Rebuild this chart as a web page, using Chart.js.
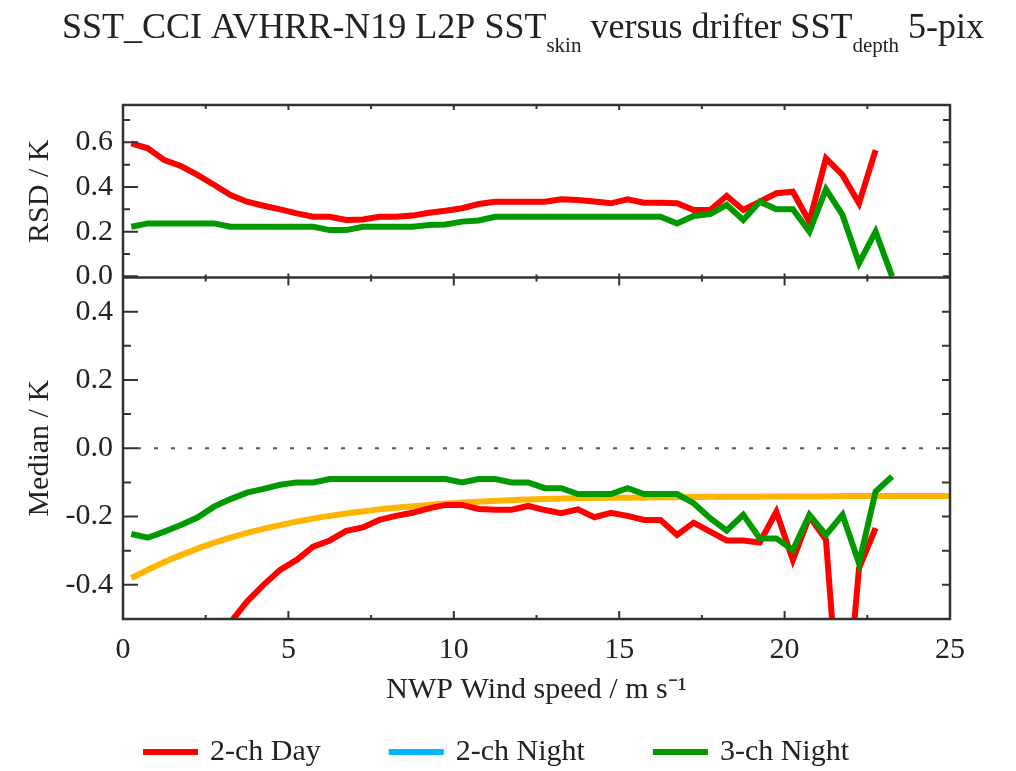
<!DOCTYPE html>
<html>
<head>
<meta charset="utf-8">
<script src="https://cdn.jsdelivr.net/npm/chart.js@4.4.0/dist/chart.umd.min.js"></script>
<style>
html, body { margin: 0; padding: 0; background: #fff; }
</style>
</head>
<body>
<canvas id="sstChart" width="1016" height="771"></canvas>
<script>
// wind speed bin centres (m/s)
const windBins = [0.25, 0.75, 1.25, 1.75, 2.25, 2.75, 3.25, 3.75, 4.25, 4.75,
  5.25, 5.75, 6.25, 6.75, 7.25, 7.75, 8.25, 8.75, 9.25, 9.75,
  10.25, 10.75, 11.25, 11.75, 12.25, 12.75, 13.25, 13.75, 14.25, 14.75,
  15.25, 15.75, 16.25, 16.75, 17.25, 17.75, 18.25, 18.75, 19.25, 19.75,
  20.25, 20.75, 21.25, 21.75, 22.25, 22.75, 23.25];

// RSD / K
const rsdDay2ch = [0.595, 0.573, 0.52, 0.494, 0.454, 0.41, 0.364, 0.334, 0.316, 0.30,
  0.282, 0.267, 0.267, 0.252, 0.255, 0.267, 0.267, 0.272, 0.285, 0.294,
  0.305, 0.324, 0.334, 0.334, 0.334, 0.334, 0.345, 0.342, 0.335, 0.327,
  0.345, 0.33, 0.33, 0.327, 0.297, 0.297, 0.36, 0.297, 0.334, 0.372,
  0.379, 0.245, 0.528, 0.454, 0.327, 0.565];
const rsdNight3ch = [0.222, 0.237, 0.237, 0.237, 0.237, 0.237, 0.222, 0.222, 0.222, 0.222,
  0.222, 0.222, 0.207, 0.207, 0.222, 0.222, 0.222, 0.222, 0.23, 0.232,
  0.245, 0.25, 0.267, 0.267, 0.267, 0.267, 0.267, 0.267, 0.267, 0.267,
  0.267, 0.267, 0.267, 0.237, 0.27, 0.279, 0.32, 0.252, 0.334, 0.30,
  0.30, 0.20, 0.39, 0.275, 0.059, 0.20, 0.0];

// Median / K  (first bins of the 2-ch day curve lie below the plotted range)
const medDay2ch = [null, null, null, null, null, null, -0.51, -0.449, -0.40, -0.356,
  -0.327, -0.288, -0.27, -0.242, -0.232, -0.21, -0.198, -0.189, -0.176, -0.166,
  -0.166, -0.178, -0.18, -0.18, -0.169, -0.181, -0.19, -0.179, -0.202, -0.189,
  -0.198, -0.21, -0.21, -0.254, -0.218, -0.244, -0.27, -0.27, -0.276, -0.186,
  -0.327, -0.20, -0.268, -0.9, -0.351, -0.234];
const medNight3ch = [-0.251, -0.262, -0.244, -0.225, -0.203, -0.171, -0.149, -0.13, -0.119, -0.107,
  -0.10, -0.10, -0.09, -0.09, -0.09, -0.09, -0.09, -0.09, -0.09, -0.09,
  -0.10, -0.09, -0.09, -0.10, -0.10, -0.117, -0.117, -0.134, -0.134, -0.134,
  -0.117, -0.134, -0.134, -0.134, -0.161, -0.205, -0.241, -0.195, -0.264, -0.264,
  -0.298, -0.195, -0.254, -0.195, -0.337, -0.127, -0.083];

// smooth fitted curve (orange)
const fitWind = [0.25, 0.75, 1.25, 1.75, 2.25, 2.75, 3.25, 3.75, 4.25, 4.75, 5.25, 5.75,
  6.25, 6.75, 7.25, 7.75, 8.25, 8.75, 9.25, 9.75, 10.25, 11, 12, 13, 14, 15, 16, 17,
  18, 19, 20, 21, 22, 23, 24, 25];
const fitMedian = [-0.38, -0.356, -0.333, -0.313, -0.294, -0.277, -0.262, -0.248, -0.236, -0.225, -0.215, -0.206,
  -0.198, -0.191, -0.185, -0.179, -0.174, -0.17, -0.166, -0.162, -0.159, -0.155, -0.151, -0.148, -0.146, -0.145, -0.144, -0.143,
  -0.142, -0.142, -0.141, -0.141, -0.14, -0.14, -0.14, -0.14];

const xTicks = [0, 5, 10, 15, 20, 25];
const xMinorTicks = [2.5, 7.5, 12.5, 17.5, 22.5];
const rsdTicks = [0.0, 0.2, 0.4, 0.6];
const rsdMinorTicks = [0.1, 0.3, 0.5, 0.7];
const medTicks = [-0.4, -0.2, 0.0, 0.2, 0.4];
const medMinorTicks = [-0.3, -0.1, 0.1, 0.3];

const legendLabels = ['2-ch Day', '2-ch Night', '3-ch Night'];
const legendColors = ['#ff0000', '#00b4ff', '#009a00'];

const SERIF = "'Liberation Serif', 'Times New Roman', serif";
const RED = '#ff0000', GREEN = '#009a00', ORANGE = '#ffb400';
const AXIS = '#333333';

function pts(xs, ys) {
  return ys.map((v, i) => ({x: xs[i], y: v}));
}

const framePlugin = {
  id: 'frame',
  beforeDatasetsDraw(chart) {
    const ctx = chart.ctx, a = chart.chartArea, ym = chart.scales.yMed;
    const y0 = ym.getPixelForValue(0);
    ctx.save();
    ctx.strokeStyle = '#555';
    ctx.lineWidth = 2;
    ctx.setLineDash([4, 13]);
    ctx.beginPath();
    ctx.moveTo(a.left + 14, y0);
    ctx.lineTo(a.right, y0);
    ctx.stroke();
    ctx.restore();
  },
  afterDraw(chart) {
    const ctx = chart.ctx, a = chart.chartArea;
    const xs = chart.scales.x, yr = chart.scales.yRsd, ym = chart.scales.yMed;
    const mid = yr.bottom;
    ctx.save();
    ctx.strokeStyle = AXIS;
    ctx.lineWidth = 2.5;
    ctx.setLineDash([]);
    ctx.strokeRect(a.left, a.top, a.right - a.left, a.bottom - a.top);
    ctx.beginPath();
    ctx.moveTo(a.left, mid); ctx.lineTo(a.right, mid);
    ctx.stroke();
    ctx.lineWidth = 2;
    ctx.beginPath();
    function hTick(scale, v, len) {
      const p = scale.getPixelForValue(v);
      ctx.moveTo(a.left, p); ctx.lineTo(a.left + len, p);
    }
    function rTick(scale, v, len) {
      const p = scale.getPixelForValue(v);
      ctx.moveTo(a.right, p); ctx.lineTo(a.right - len, p);
    }
    rsdTicks.forEach(v => { hTick(yr, v, 15); rTick(yr, v, 7); });
    rsdMinorTicks.forEach(v => { hTick(yr, v, 7); rTick(yr, v, 7); });
    medTicks.forEach(v => { hTick(ym, v, 15); rTick(ym, v, 8); });
    medMinorTicks.forEach(v => { hTick(ym, v, 8); rTick(ym, v, 8); });
    function vTick(v, y, len) {
      const p = xs.getPixelForValue(v);
      ctx.moveTo(p, y); ctx.lineTo(p, y + len);
    }
    xTicks.forEach(v => {
      vTick(v, a.bottom, -8); vTick(v, mid, 8); vTick(v, mid, -4); vTick(v, a.top, 5);
    });
    xMinorTicks.forEach(v => {
      vTick(v, a.bottom, -4); vTick(v, mid, 4); vTick(v, mid, -3); vTick(v, a.top, 4);
    });
    ctx.stroke();

    // title with subscripts
    const parts = [
      ['SST_CCI AVHRR-N19 L2P SST', false],
      ['skin', true],
      [' versus drifter SST', false],
      ['depth', true],
      [' 5-pix', false]
    ];
    const big = '36px ' + SERIF, small = '21px ' + SERIF;
    let total = 0;
    parts.forEach(p => { ctx.font = p[1] ? small : big; total += ctx.measureText(p[0]).width; });
    let x = 523 - total / 2;
    ctx.fillStyle = '#222';
    ctx.textBaseline = 'alphabetic';
    ctx.textAlign = 'left';
    parts.forEach(p => {
      ctx.font = p[1] ? small : big;
      ctx.fillText(p[0], x, p[1] ? 52 : 38);
      x += ctx.measureText(p[0]).width;
    });

    // legend
    ctx.font = '30px ' + SERIF;
    const sample = 55, gap = 12, itemGap = 68;
    let w = 0;
    legendLabels.forEach((l, i) => {
      w += sample + gap + ctx.measureText(l).width + (i < legendLabels.length - 1 ? itemGap : 0);
    });
    let lx = 496 - w / 2;
    const ly = 752;
    ctx.textBaseline = 'middle';
    legendLabels.forEach((l, i) => {
      ctx.strokeStyle = legendColors[i];
      ctx.lineWidth = 6;
      ctx.beginPath();
      ctx.moveTo(lx, ly); ctx.lineTo(lx + sample, ly);
      ctx.stroke();
      ctx.fillStyle = '#222';
      ctx.fillText(l, lx + sample + gap, ly);
      lx += sample + gap + ctx.measureText(l).width + itemGap;
    });
    ctx.restore();
  }
};

const ctx = document.getElementById('sstChart').getContext('2d');
new Chart(ctx, {
  type: 'line',
  data: {
    datasets: [
      {label: '3-ch Night', data: pts(windBins, rsdNight3ch), yAxisID: 'yRsd', borderColor: GREEN},
      {label: '3-ch Night', data: pts(windBins, medNight3ch), yAxisID: 'yMed', borderColor: GREEN},
      {label: '2-ch Day', data: pts(windBins, rsdDay2ch), yAxisID: 'yRsd', borderColor: RED},
      {label: '2-ch Day', data: pts(windBins, medDay2ch), yAxisID: 'yMed', borderColor: RED, spanGaps: false},
      {label: 'fit', data: pts(fitWind, fitMedian), yAxisID: 'yMed', borderColor: ORANGE, cubicInterpolationMode: 'monotone'}
    ]
  },
  options: {
    responsive: false,
    animation: false,
    layout: {padding: {top: 105, right: 66, bottom: 0, left: 0}},
    elements: {
      point: {radius: 0},
      line: {borderWidth: 6, fill: false, tension: 0}
    },
    plugins: {
      legend: {display: false},
      tooltip: {enabled: false}
    },
    scales: {
      x: {
        type: 'linear', position: 'bottom', min: 0, max: 25,
        grid: {display: false, drawTicks: false},
        border: {display: false},
        ticks: {font: {family: SERIF, size: 30}, color: '#222', padding: 13, maxRotation: 0, autoSkip: false},
        afterBuildTicks: s => { s.ticks = xTicks.map(v => ({value: v})); },
        afterFit: s => { s.height = 152; },
        title: {display: true, text: 'NWP Wind speed / m s\u207B\u00B9', color: '#222',
          font: {family: SERIF, size: 30}, padding: {top: 0, bottom: 63}}
      },
      yMed: {
        type: 'linear', position: 'left', stack: 'panels', stackWeight: 1.98,
        min: -0.5, max: 0.5,
        grid: {display: false, drawTicks: false},
        border: {display: false},
        ticks: {font: {family: SERIF, size: 30}, color: '#222', padding: 10, autoSkip: false,
          callback: v => v.toFixed(1)},
        afterBuildTicks: s => { s.ticks = medTicks.map(v => ({value: v})); },
        afterFit: s => { s.width = 123; },
        title: {display: true, text: 'Median / K', color: '#222',
          font: {family: SERIF, size: 30}, padding: {top: 22, bottom: 0}}
      },
      yRsd: {
        type: 'linear', position: 'left', stack: 'panels', stackWeight: 1,
        min: -0.005, max: 0.767,
        grid: {display: false, drawTicks: false},
        border: {display: false},
        ticks: {font: {family: SERIF, size: 30}, color: '#222', padding: 10, autoSkip: false,
          callback: v => v.toFixed(1)},
        afterBuildTicks: s => { s.ticks = rsdTicks.map(v => ({value: v})); },
        afterFit: s => { s.width = 123; },
        title: {display: true, text: 'RSD / K', color: '#222',
          font: {family: SERIF, size: 30}, padding: {top: 22, bottom: 0}}
      }
    }
  },
  plugins: [framePlugin]
});
</script>
</body>
</html>
